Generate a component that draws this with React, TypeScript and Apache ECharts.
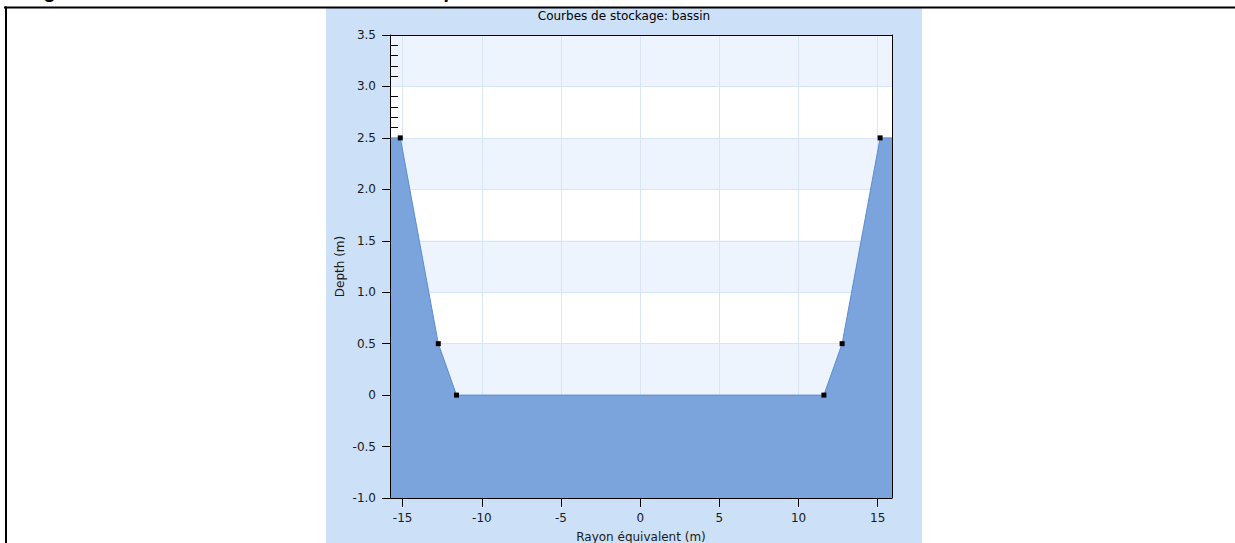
import React, { useEffect, useRef } from "react";
import * as echarts from "echarts";

// ---- data ----
const chartTitle = "Courbes de stockage: bassin";
const xName = "Rayon équivalent (m)";
const yName = "Depth (m)";
const caption = "Figure 3 – Forme transversale du bassin en profil";

const radius = [-15.15, -12.75, -11.6, 11.6, 12.75, 15.15];
const depth = [2.5, 0.5, 0, 0, 0.5, 2.5];

const xTicks = [-15, -10, -5, 0, 5, 10, 15];
const xMin = -15.8;
const xMax = 15.9;
const yMin = -1;
const yMax = 3.5;
const yStep = 0.5;

const FONT = "DejaVu Sans";

export default function App() {
  const ref = useRef<HTMLDivElement>(null);

  useEffect(() => {
    if (!ref.current) return;
    const chart = echarts.init(ref.current, undefined, { renderer: "svg" });

    const pts: any[] = radius.map((r, i) => [r, depth[i]]);
    const data: any[] = [
      { value: [xMin, depth[0]], symbol: "none" },
      ...pts,
      { value: [xMax, depth[depth.length - 1]], symbol: "none" },
    ];

    const yFmt = (v: number) => (v === 0 ? "0" : v.toFixed(1));
    const labelStyle = { fontFamily: FONT, fontSize: 12, color: "#1a1a1a" };

    const option: any = {
      animation: false,
      backgroundColor: "#ffffff",
      title: {
        text: chartTitle,
        left: 624,
        top: 10,
        textAlign: "center",
        padding: 0,
        textStyle: { fontFamily: FONT, fontSize: 12, fontWeight: "normal", color: "#000" },
      },
      graphic: [
        {
          type: "rect",
          z: -10,
          shape: { x: 326, y: 8, width: 596, height: 540 },
          style: { fill: "#cce0f8" },
        },
        {
          type: "line",
          z: 10,
          shape: { x1: 4, y1: 7.5, x2: 1235, y2: 7.5 },
          style: { stroke: "#000", lineWidth: 2 },
        },
        {
          type: "line",
          z: 10,
          shape: { x1: 6, y1: 6.5, x2: 6, y2: 548 },
          style: { stroke: "#000", lineWidth: 2 },
        },
        {
          type: "text",
          z: 10,
          x: 27,
          y: -9,
          style: {
            text: caption,
            font: "italic bold 20px 'Liberation Sans'",
            fill: "#000",
            align: "left",
            verticalAlign: "middle",
          },
        },
      ],
      grid: {
        left: 390,
        top: 35,
        right: 343,
        bottom: 45,
        containLabel: false,
        outerBoundsMode: "none",
      },
      xAxis: [
        {
          type: "value",
          position: "bottom",
          min: xMin,
          max: xMax,
          minInterval: 5,
          maxInterval: 5,
          z: 0,
          axisLine: { show: false, onZero: false },
          axisTick: { show: false },
          axisLabel: { show: false },
          splitLine: { show: true, lineStyle: { color: "#d6e5f8", width: 1 } },
        },
        {
          type: "value",
          position: "bottom",
          min: xMin,
          max: xMax,
          minInterval: 5,
          maxInterval: 5,
          z: 3,
          name: xName,
          nameLocation: "middle",
          nameGap: 33,
          nameTextStyle: { fontFamily: FONT, fontSize: 12, color: "#1a1a1a" },
          axisLine: { show: true, onZero: false, lineStyle: { color: "#000", width: 1 } },
          axisTick: {
            show: true,
            length: 9,
            customValues: xTicks,
            lineStyle: { color: "#000", width: 1 },
          },
          axisLabel: { ...labelStyle, margin: 14, customValues: xTicks, showMinLabel: true, showMaxLabel: true },
          splitLine: { show: false },
        },
        {
          type: "value",
          position: "top",
          min: xMin,
          max: xMax,
          z: 3,
          axisLine: { show: true, onZero: false, lineStyle: { color: "#000", width: 1 } },
          axisTick: { show: false },
          axisLabel: { show: false },
          splitLine: { show: false },
        },
      ],
      yAxis: [
        {
          type: "value",
          position: "left",
          min: yMin,
          max: yMax,
          interval: yStep,
          z: 0,
          axisLine: { show: false, onZero: false },
          axisTick: { show: false },
          axisLabel: { show: false },
          splitLine: { show: true, lineStyle: { color: "#d6e5f8", width: 1 } },
          splitArea: { show: true, areaStyle: { color: ["#eef4fd", "#ffffff"] } },
        },
        {
          type: "value",
          position: "left",
          min: yMin,
          max: yMax,
          interval: yStep,
          z: 1,
          axisLine: { show: false, onZero: false },
          axisTick: { show: false, inside: true },
          minorTick: { show: true, splitNumber: 5, length: 8, lineStyle: { color: "#000", width: 1 } },
          axisLabel: { show: false },
          splitLine: { show: false },
        },
        {
          type: "value",
          position: "left",
          min: yMin,
          max: yMax,
          interval: yStep,
          z: 3,
          name: yName,
          nameLocation: "middle",
          nameGap: 44,
          nameTextStyle: { fontFamily: FONT, fontSize: 12, color: "#1a1a1a" },
          axisLine: { show: true, onZero: false, lineStyle: { color: "#000", width: 1 } },
          axisTick: { show: true, length: 8, lineStyle: { color: "#000", width: 1 } },
          axisLabel: { ...labelStyle, margin: 14, formatter: yFmt },
          splitLine: { show: false },
        },
        {
          type: "value",
          position: "right",
          min: yMin,
          max: yMax,
          interval: yStep,
          z: 3,
          axisLine: { show: true, onZero: false, lineStyle: { color: "#000", width: 1 } },
          axisTick: { show: false },
          axisLabel: { show: false },
          splitLine: { show: false },
        },
      ],
      series: [
        {
          type: "line",
          xAxisIndex: 0,
          yAxisIndex: 0,
          z: 2,
          data,
          symbol: "rect",
          symbolSize: 5,
          showSymbol: true,
          itemStyle: { color: "#000" },
          lineStyle: { color: "#5a8cd2", width: 1 },
          areaStyle: { color: "#7ba3dc", opacity: 1, origin: "start" },
          silent: true,
        },
      ],
    };

    chart.setOption(option);
    return () => chart.dispose();
  }, []);

  return (
    <div
      ref={ref}
      style={{ position: "fixed", left: 0, top: 0, width: 1235, height: 543 }}
    />
  );
}
